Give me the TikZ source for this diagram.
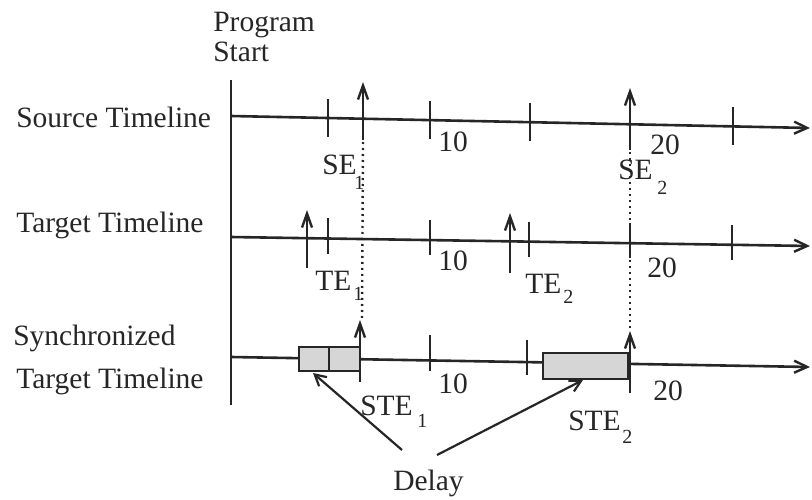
\documentclass[tikz,border=0pt]{standalone}
\usepackage{fontspec}
\setmainfont{Liberation Serif}
\usetikzlibrary{arrows.meta,calc}
\definecolor{ink}{HTML}{262626}
\definecolor{boxfill}{HTML}{D6D6D6}
\begin{document}
\begin{tikzpicture}[x=1pt,y=-1pt,
  line width=2.6pt, draw=ink,
  lbl/.style={inner sep=0pt, anchor=base west, text=ink, font=\fontsize{29.5}{31}\selectfont},
  sublbl/.style={inner sep=0pt, anchor=base west, text=ink, font=\fontsize{20}{21}\selectfont},
  axis/.style={draw=ink, -{Straight Barb[length=13pt,width=12pt,line width=2.4pt]}},
  evarrow/.style={draw=ink, -{Straight Barb[length=14pt,width=10pt,line width=2.4pt]}},
  tickmark/.style={draw=ink},
  dotline/.style={draw=ink, line width=2.4pt, dash pattern=on 2pt off 4pt},
  delaybox/.style={draw=ink, fill=boxfill},
  delayarrow/.style={draw=ink, line width=2.2pt, -{Straight Barb[length=11pt,width=12pt,line width=2.2pt]}}]
\useasboundingbox (0,0) rectangle (812,500);

% labels on the left
\node[lbl] (prog) at (212,32) {Program};
\node[lbl] (start) at (212,62) {Start};
\node[lbl] (srcl) at (15,128) {Source Timeline};
\node[lbl] (tgtl) at (15,233) {Target Timeline};
\node[lbl] (syn1) at (12,345) {Synchronized};
\node[lbl] (syn2) at (15,388) {Target Timeline};

% program start line
\coordinate (ps0) at (231,80);
\coordinate (ps1) at (231,405);
\draw (ps0) -- (ps1);

% ---------- source timeline ----------
\coordinate (s0) at (231,116);
\coordinate (s1) at (810,128);
\draw[axis] (s0) -- (s1);
\foreach \x/\y [count=\i] in {328/118, 430/120.1, 530/122.2, 733/126.4}{
  \coordinate (st\i a) at (\x,\y-19);
  \coordinate (st\i b) at (\x,\y+19);
  \draw[tickmark] (st\i a) -- (st\i b);
}
\coordinate (se1b) at (363,140);
\coordinate (se1t) at (363,82);
\draw[evarrow] (se1b) -- (se1t);
\coordinate (se2b) at (630,150);
\coordinate (se2t) at (630,88);
\draw[evarrow] (se2b) -- (se2t);
\node[lbl] (s10) at (437,152) {10};
\node[lbl] (s20) at (649,155) {20};
\node[lbl] (se1) at (321,175) {SE};
\node[sublbl] (se1s) at (353,190) {1};
\node[lbl] (se2) at (617,180) {SE};
\node[sublbl] (se2s) at (656,195) {2};

% ---------- target timeline ----------
\coordinate (t0) at (231,237);
\coordinate (t1) at (810,246);
\draw[axis] (t0) -- (t1);
\foreach \x/\y [count=\i] in {328/238.5, 430/240.1, 529/241.6, 630/243.2, 732/244.8}{
  \coordinate (tt\i a) at (\x,\y-20);
  \coordinate (tt\i b) at (\x,\y+15);
  \draw[tickmark] (tt\i a) -- (tt\i b);
}
\coordinate (te1b) at (307,268);
\coordinate (te1t) at (307,210);
\draw[evarrow] (te1b) -- (te1t);
\coordinate (te2b) at (510,273);
\coordinate (te2t) at (510,213);
\draw[evarrow] (te2b) -- (te2t);
\node[lbl] (t10) at (437,270) {10};
\node[lbl] (t20) at (646,277) {20};
\node[lbl] (te1) at (314,290) {TE};
\node[sublbl] (te1s) at (352,300) {1};
\node[lbl] (te2) at (524,293) {TE};
\node[sublbl] (te2s) at (562,303) {2};

% ---------- synchronized timeline ----------
\coordinate (y0) at (231,357);
\coordinate (y1) at (810,367);
\draw[axis] (y0) -- (y1);
\coordinate (b1a) at (299,347);
\coordinate (b1b) at (360,371);
\draw[delaybox] (b1a) rectangle (b1b);
\coordinate (b2a) at (543,353);
\coordinate (b2b) at (628,379);
\draw[delaybox] (b2a) rectangle (b2b);
\foreach \x/\ya/\yb [count=\i] in {329/346/372, 430/335/371, 527/340/375}{
  \coordinate (yt\i a) at (\x,\ya);
  \coordinate (yt\i b) at (\x,\yb);
  \draw[tickmark] (yt\i a) -- (yt\i b);
}
\coordinate (ste1b) at (360,382);
\coordinate (ste1t) at (360,320);
\draw[evarrow] (ste1b) -- (ste1t);
\coordinate (ste2b) at (630,393);
\coordinate (ste2t) at (630,331);
\draw[evarrow] (ste2b) -- (ste2t);
\node[lbl] (y10) at (437,393) {10};
\node[lbl] (y20) at (652,400) {20};
\node[lbl] (ste1) at (359,415) {STE};
\node[sublbl] (ste1s) at (416,427) {1};
\node[lbl] (ste2) at (567,430) {STE};
\node[sublbl] (ste2s) at (621,443) {2};

% dotted projections
\coordinate (d1a) at (363,142);
\coordinate (d1b) at (362,320);
\draw[dotline] (d1a) -- (d1b);
\coordinate (d2a) at (630,152);
\coordinate (d2b) at (630,331);
\draw[dotline] (d2a) -- (d2b);

% delay label and arrows
\node[lbl] (delay) at (392,490) {Delay};
\coordinate (da1) at (402,450);
\coordinate (da1t) at (313,373);
\draw[delayarrow] (da1) -- (da1t);
\coordinate (da2) at (437,455);
\coordinate (da2t) at (583,380);
\draw[delayarrow] (da2) -- (da2t);
\end{tikzpicture}
\end{document}
